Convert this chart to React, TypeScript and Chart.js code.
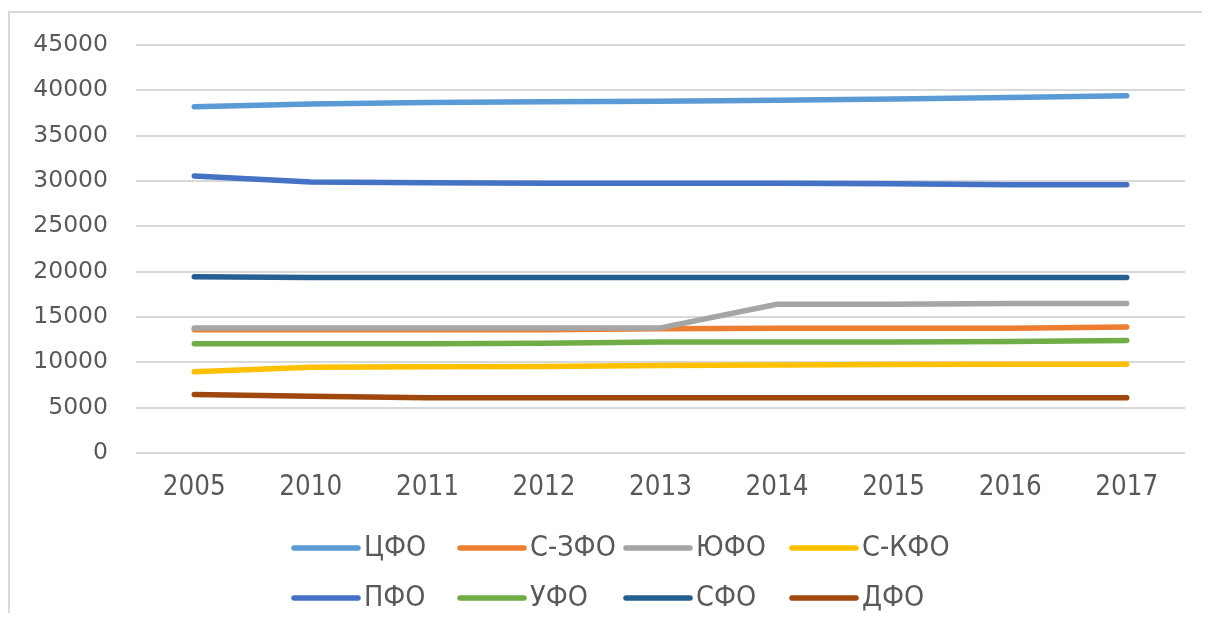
import React, { useEffect, useRef } from "react";
import { Chart, registerables } from "chart.js";

Chart.register(...registerables);

const years = ["2005", "2010", "2011", "2012", "2013", "2014", "2015", "2016", "2017"];

const seriesNames = ["ЦФО", "С-ЗФО", "ЮФО", "С-КФО", "ПФО", "УФО", "СФО", "ДФО"];

const cfo = [38200, 38500, 38650, 38750, 38800, 38900, 39050, 39200, 39400];
const szfo = [13600, 13600, 13600, 13600, 13700, 13750, 13750, 13750, 13900];
const yufo = [13800, 13800, 13800, 13800, 13800, 16400, 16400, 16500, 16500];
const skfo = [8950, 9450, 9500, 9550, 9650, 9700, 9750, 9780, 9800];
const pfo = [30550, 29880, 29800, 29750, 29750, 29750, 29700, 29600, 29600];
const ufo = [12050, 12050, 12050, 12100, 12250, 12250, 12250, 12300, 12400];
const sfo = [19450, 19350, 19350, 19350, 19350, 19350, 19350, 19350, 19350];
const dfo = [6450, 6250, 6100, 6100, 6100, 6100, 6100, 6100, 6100];

const seriesValues = [cfo, szfo, yufo, skfo, pfo, ufo, sfo, dfo];

const colors = ["#5B9BD5", "#ED7D31", "#A5A5A5", "#FFC000", "#4472C4", "#70AD47", "#255E91", "#9E480E"];

const yTicks = [0, 5000, 10000, 15000, 20000, 25000, 30000, 35000, 40000, 45000];

const TEXT_COLOR = "#595959";
const NARROW_FONT = '"DejaVu Sans Condensed", "Liberation Sans Narrow", "DejaVu Sans", sans-serif';

const legendPlugin = {
  id: "gridLegend",
  afterDraw(chart: any) {
    const ctx = chart.ctx;
    const startX = 281;
    const colW = 166;
    const rowY = [535, 585];
    const sample = 70;
    ctx.save();
    ctx.font = `28.5px ${NARROW_FONT}`;
    ctx.textBaseline = "middle";
    ctx.textAlign = "left";
    chart.data.datasets.forEach((ds: any, i: number) => {
      const col = i % 4;
      const row = Math.floor(i / 4);
      const x0 = startX + col * colW;
      const y = rowY[row];
      ctx.strokeStyle = ds.borderColor;
      ctx.lineWidth = 5.5;
      ctx.lineCap = "round";
      ctx.beginPath();
      ctx.moveTo(x0 + 3, y);
      ctx.lineTo(x0 + sample - 3, y);
      ctx.stroke();
      ctx.fillStyle = TEXT_COLOR;
      ctx.fillText(ds.label, x0 + sample + 3, y + 1);
    });
    ctx.restore();
  },
};

export default function App() {
  const canvasRef = useRef<HTMLCanvasElement | null>(null);

  useEffect(() => {
    document.body.style.overflow = "hidden";
    if (!canvasRef.current) return;
    const chart = new Chart(canvasRef.current, {
      type: "line",
      data: {
        labels: years,
        datasets: seriesNames.map((name, i) => ({
          label: name,
          data: seriesValues[i],
          borderColor: colors[i],
          backgroundColor: colors[i],
          borderWidth: 5.5,
          pointRadius: 0,
          pointHoverRadius: 0,
          tension: 0,
          borderCapStyle: "round" as const,
          borderJoinStyle: "round" as const,
          fill: false,
          order: 10 - i,
        })),
      },
      options: {
        responsive: false,
        animation: false,
        devicePixelRatio: 1,
        layout: { padding: { left: 0, right: 25, top: 32, bottom: 100 } },
        plugins: {
          legend: { display: false },
          tooltip: { enabled: false },
          title: { display: false },
        },
        scales: {
          x: {
            type: "category",
            offset: true,
            grid: { display: false, drawTicks: false },
            border: { display: false },
            ticks: {
              color: TEXT_COLOR,
              padding: 18,
              font: { size: 27.5, family: NARROW_FONT },
              maxRotation: 0,
              autoSkip: false,
            },
            afterFit(scale: any) {
              scale.height = 60;
              scale.paddingLeft = 0;
              scale.paddingRight = 0;
            },
          },
          y: {
            min: 0,
            max: 45000,
            afterBuildTicks(scale: any) {
              scale.ticks = yTicks.map((v) => ({ value: v }));
            },
            grid: { color: "#D9D9D9", lineWidth: 2, drawTicks: false },
            border: { display: false },
            ticks: {
              color: TEXT_COLOR,
              padding: 28,
              font: { size: 23.5, family: '"DejaVu Sans", sans-serif' },
              callback: (v: any) => String(v),
            },
            afterFit(scale: any) {
              scale.width = 126;
              scale.paddingTop = 0;
              scale.paddingBottom = 0;
            },
          },
        },
      },
      plugins: [legendPlugin],
    });
    return () => chart.destroy();
  }, []);

  return (
    <div style={{ paddingTop: 3 }}>
      <div
        style={{
          borderTop: "2px solid #D9D9D9",
          borderLeft: "2px solid #D9D9D9",
          width: 1200,
          height: 600,
        }}
      >
        <canvas ref={canvasRef} width={1200} height={600} style={{ display: "block" }} />
      </div>
    </div>
  );
}
